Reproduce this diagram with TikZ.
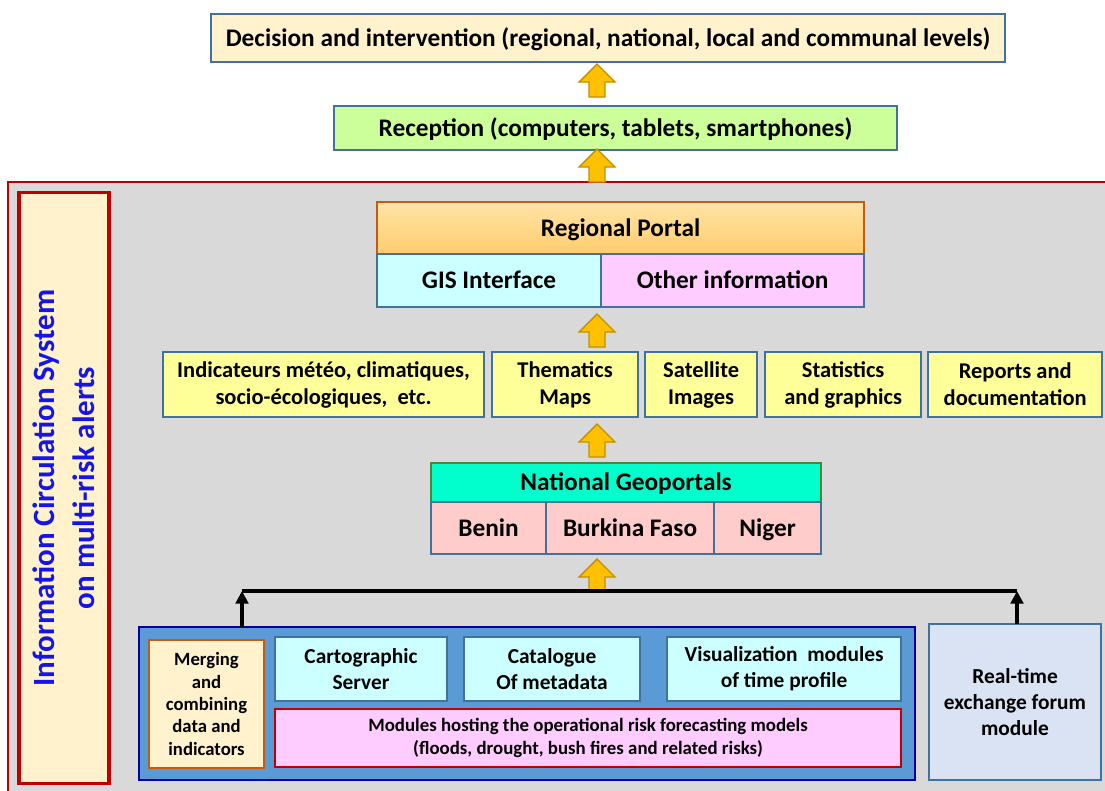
\documentclass[tikz,border=0pt]{standalone}
\usepackage{fontspec}
\setmainfont{Carlito}
\usetikzlibrary{positioning}
\usetikzlibrary{calc}
\usetikzlibrary{arrows.meta}

\definecolor{steel}{RGB}{65,113,156}
\definecolor{beige}{RGB}{255,242,204}
\definecolor{lgreen}{RGB}{204,255,153}
\definecolor{bggray}{RGB}{217,217,217}
\definecolor{darkred}{RGB}{192,0,0}
\definecolor{labblue}{RGB}{20,20,235}
\definecolor{portaldraw}{RGB}{197,90,17}
\definecolor{portaltop}{RGB}{255,228,165}
\definecolor{portalbot}{RGB}{255,204,110}
\definecolor{lcyan}{RGB}{204,255,255}
\definecolor{lpink}{RGB}{255,204,255}
\definecolor{lyellow}{RGB}{255,255,153}
\definecolor{aqua}{RGB}{0,255,204}
\definecolor{geodraw}{RGB}{84,130,53}
\definecolor{rose}{RGB}{255,204,204}
\definecolor{panelblue}{RGB}{91,155,213}
\definecolor{navy}{RGB}{0,0,160}
\definecolor{mergedraw}{RGB}{197,90,17}
\definecolor{lavender}{RGB}{218,227,243}
\definecolor{arrowfill}{RGB}{255,192,0}
\definecolor{arrowdraw}{RGB}{191,144,0}

\begin{document}
\begin{tikzpicture}[x=0.025cm, y=-0.025cm,
    box/.style ={rectangle, draw=steel, line width=1.5pt, inner sep=1pt, outer sep=0pt,
      align=center, anchor=north west},
    oneline/.style ={text height=15.3pt, text depth=3.8pt},
    txtL/.style ={font=\bfseries\fontsize{18}{21}\selectfont},
    txtM/.style ={font=\bfseries\fontsize{16}{19.2}\selectfont},
    txtB/.style ={font=\bfseries\fontsize{15.2}{18.5}\selectfont},
    txtS/.style ={font=\bfseries\fontsize{13.3}{15.9}\selectfont},
    blockarrow/.style ={fill=arrowfill, draw=arrowdraw, line width=1pt, line join=miter},
    busline/.style ={line width=2.2pt, black}]

    \useasboundingbox (0,0) rectangle (1105,790);
    \coordinate (axis) at (597,0);

    % upper levels
    \node[box, fill=beige, minimum width=19.85cm, minimum height=1.2cm, txtL, oneline] (decision) at (211,14)
      {Decision and intervention (regional, national, local and communal levels)};
    \node[box, fill=lgreen, minimum width=14.075cm, minimum height=1.1cm, txtL, oneline] (recep) at (334,106)
      {Reception (computers, tablets, smartphones)};

    % information circulation system
    \node[box, draw=darkred, line width=1pt, fill=bggray, minimum width=27.8cm, minimum height=15.6cm] (sys) at (8,182) {};
    \node[box, anchor=center, draw=darkred, line width=2.2pt, fill=beige, rotate=90,
      minimum width=14.75cm, minimum height=2.25cm, text=labblue,
      font=\bfseries\fontsize{22}{28.4}\selectfont] (lab) at (64,488)
      {Information Circulation System\\on multi-risk alerts};

    % regional portal
    \node[box, draw=portaldraw, top color=portaltop, bottom color=portalbot,
      minimum width=12.175cm, minimum height=1.3cm, txtL, oneline] (portal) at (377,202) {Regional Portal};
    \node[box, fill=lcyan, minimum width=5.6cm, minimum height=1.325cm, txtL, oneline,
      below right=0pt and 0pt of portal.south west] (gis) {GIS Interface};
    \node[box, fill=lpink, minimum width=6.575cm, minimum height=1.325cm, txtL, oneline,
      right=0pt of gis] (other) {Other information};

    % products
    \node[box, fill=lyellow, minimum width=8.025cm, minimum height=1.625cm, txtM] (indic) at (163,352)
      {Indicateurs météo, climatiques,\\socio-écologiques,\ \ etc.};
    \node[box, fill=lyellow, minimum width=3.65cm, minimum height=1.625cm, txtM,
      right=0.2cm of indic] (thema) {Thematics\\Maps};
    \node[box, fill=lyellow, minimum width=2.8cm, minimum height=1.625cm, txtM,
      right=0.175cm of thema] (sat) {Satellite\\Images};
    \node[box, fill=lyellow, minimum width=3.9cm, minimum height=1.625cm, txtM,
      right=0.2cm of sat] (stat) {Statistics\\and graphics};
    \node[box, fill=lyellow, minimum width=4.35cm, minimum height=1.625cm, txtM,
      right=0.175cm of stat] (rep) {Reports and\\documentation};

    % national geoportals
    \node[box, draw=geodraw, fill=aqua, minimum width=9.75cm, minimum height=0.975cm, txtL, oneline] (geo) at (431,463)
      {National Geoportals};
    \node[box, fill=rose, minimum width=2.875cm, minimum height=1.3cm, txtL, oneline,
      below right=0pt and 0pt of geo.south west] (benin) {Benin};
    \node[box, fill=rose, minimum width=4.2cm, minimum height=1.3cm, txtL, oneline,
      right=0pt of benin] (burkina) {Burkina Faso};
    \node[box, fill=rose, minimum width=2.675cm, minimum height=1.3cm, txtL, oneline,
      right=0pt of burkina] (niger) {Niger};

    % modules
    \node[box, draw=navy, fill=panelblue, minimum width=19.4cm, minimum height=3.825cm] (panel) at (139,627) {};
    \node[box, draw=mergedraw, fill=beige, minimum width=2.875cm, minimum height=3.2cm, txtS] (merge) at (149,640)
      {Merging\\and\\combining\\data and\\indicators};
    \node[box, fill=lcyan, minimum width=4.3cm, minimum height=1.6cm, txtB] (carto) at (275,637)
      {Cartographic\\Server};
    \node[box, fill=lcyan, minimum width=4.4cm, minimum height=1.6cm, txtB,
      right=0.425cm of carto] (catal) {Catalogue\\Of metadata};
    \node[box, fill=lcyan, minimum width=5.85cm, minimum height=1.6cm, txtB,
      right=0.675cm of catal] (visu) {Visualization\ \ modules\\of time profile};
    \node[box, draw=darkred, fill=lpink, minimum width=15.65cm, minimum height=1.45cm,
      font=\bfseries\fontsize{13.4}{16.4}\selectfont] (risk) at (275,709)
      {Modules hosting the operational risk forecasting models\\(floods, drought, bush fires and related risks)};
    \node[box, fill=lavender, minimum width=4.3cm, minimum height=3.9cm, txtB] (realtime) at (929,624)
      {Real-time\\exchange forum\\module};

    % block arrows
    \foreach \low/\gap in {recep/9, sys/0, indic/5, geo/6}
      \draw[blockarrow] ($(axis |- \low.north)+(-8,-\gap)$) -- ++(0,-15) -- ++(-10,0)
        -- ++(18,-18) -- ++(18,18) -- ++(-10,0) -- ++(0,15) -- cycle;

    \coordinate (busL) at (242,591);
    \coordinate (busR) at (1017,591);
    \draw[blockarrow] ($(axis |- busL)+(-8,1)$) -- ++(0,-15) -- ++(-10,0)
      -- ++(18,-18) -- ++(18,18) -- ++(-10,0) -- ++(0,15) -- cycle;

    % feeding lines
    \draw[busline, -{Triangle[length=9pt, width=9pt]}] (busL |- panel.north) -- (busL);
    \draw[busline, -{Triangle[length=9pt, width=9pt]}] (busR |- realtime.north) -- (busR);
    \draw[busline] (busL) -- (busR);
\end{tikzpicture}
\end{document}
